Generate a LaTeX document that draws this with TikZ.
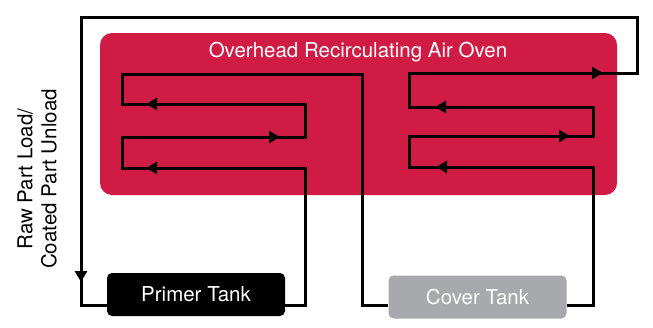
\documentclass[tikz,border=0pt]{standalone}
\usepackage{fontspec}
\setmainfont{TeX Gyre Heros}
\usetikzlibrary{arrows.meta}
\definecolor{ovenred}{HTML}{D01B45}
\definecolor{tankgray}{HTML}{A7A9AC}

\begin{document}
\begin{tikzpicture}[x=1pt,y=-1pt,
		oven/.style={rectangle, rounded corners=12pt, fill=ovenred, minimum width=517pt, minimum height=162pt},
		tank/.style={rectangle, rounded corners=5pt, text=white, minimum width=178pt, minimum height=43pt, font=\fontsize{20.5}{24}\selectfont},
		flow/.style={line width=3pt, line join=miter},
		tip/.style={flow, -{Triangle[length=11pt,width=12pt]}}
	]
	\useasboundingbox (0,0) rectangle (653,327);
	
	\node[oven] (oven) at (358.5,114) {};
	\node[text=white, font=\fontsize{20.5}{24}\selectfont] (title) at (358,52) {Overhead Recirculating Air Oven};
	
	\node[tank, fill=black] (primer) at (196,294.5) {Primer Tank};
	\node[tank, fill=tankgray] (cover) at (477.5,297) {Cover Tank};
	
	\node[rotate=90, align=center, font=\fontsize{20.5}{24}\selectfont] (load) at (37,179) {Raw Part Load/\\Coated Part Unload};
	
	% primer side
	\coordinate (b_1) at (305,305);
	\coordinate (b_2) at (305,168);
	\coordinate (b_3) at (122,168);
	\coordinate (b_4) at (122,137);
	\coordinate (b_5) at (305,137);
	\coordinate (b_6) at (305,104);
	\coordinate (b_7) at (122,104);
	\coordinate (b_8) at (122,74);
	\coordinate (b_9) at (362,74);
	\coordinate (b_10) at (362,305);
	
	% cover side and return
	\coordinate (c_1) at (593,305);
	\coordinate (c_2) at (593,167);
	\coordinate (c_3) at (409,167);
	\coordinate (c_4) at (409,136);
	\coordinate (c_5) at (593,136);
	\coordinate (c_6) at (593,107);
	\coordinate (c_7) at (409,107);
	\coordinate (c_8) at (409,73);
	\coordinate (c_9) at (637,73);
	\coordinate (c_10) at (637,17);
	\coordinate (c_11) at (81,17);
	\coordinate (c_12) at (81,305);
	
	% arrow tips
	\coordinate (t_1) at (146,168);
	\coordinate (t_2) at (280,137);
	\coordinate (t_3) at (146,104);
	\coordinate (t_4) at (436,167);
	\coordinate (t_5) at (570,136);
	\coordinate (t_6) at (435,107);
	\coordinate (t_7) at (603,73);
	\coordinate (t_8) at (81,282);
	
	\draw[flow] (primer.east |- b_1) -- (b_1) -- (b_2) -- (b_3) -- (b_4) -- (b_5) -- (b_6) -- (b_7) -- (b_8) -- (b_9) -- (b_10) -- (cover.west |- b_10);
	\draw[flow] (cover.east |- c_1) -- (c_1) -- (c_2) -- (c_3) -- (c_4) -- (c_5) -- (c_6) -- (c_7) -- (c_8) -- (c_9) -- (c_10) -- (c_11) -- (c_12) -- (primer.west |- c_12);
	
	\draw[tip] (b_2) -- (t_1);
	\draw[tip] (b_4) -- (t_2);
	\draw[tip] (b_6) -- (t_3);
	\draw[tip] (c_2) -- (t_4);
	\draw[tip] (c_4) -- (t_5);
	\draw[tip] (c_6) -- (t_6);
	\draw[tip] (c_8) -- (t_7);
	\draw[tip] (c_11) -- (t_8);
\end{tikzpicture}
\end{document}
